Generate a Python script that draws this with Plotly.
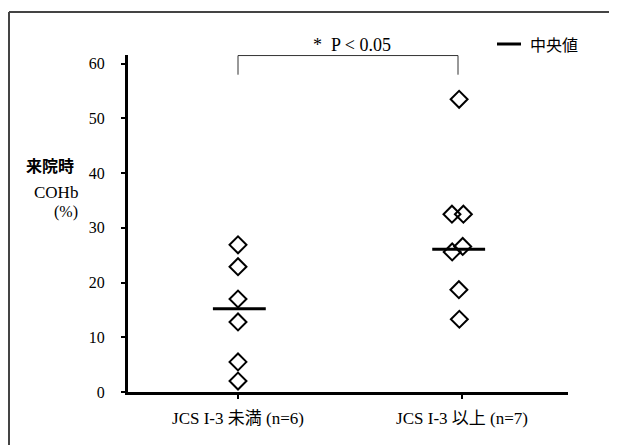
import plotly.graph_objects as go

# ---- data ----
categories = ["JCS I-3 未満 (n=6)", "JCS I-3 以上 (n=7)"]
group1_values = [26.9, 22.9, 17.0, 12.8, 5.5, 2.0]
group2_values = [53.5, 32.5, 32.5, 26.6, 25.6, 18.7, 13.3]
medians = [15.2, 26.1]
y_ticks = [0, 10, 20, 30, 40, 50, 60]
p_label = "*  P < 0.05"
legend_label = "中央値"

# ---- layout constants (reference pixel positions; page body has an 8px margin) ----
OFF = 8
W, H = 617 - OFF, 445 - OFF
AX_L, AX_R, AX_T, AX_B = 128, 568, 55, 392   # plot area in reference pixels
L, R, T, B = AX_L - OFF, W - (AX_R - OFF), AX_T - OFF, H - (AX_B - OFF)
PW, PH = AX_R - AX_L, AX_B - AX_T

# horizontal jitter (display offsets) for overlapping points
g1_jitter = [0, 0, 0, 0, 0, 0]
g2_jitter = [-0.013, -0.045, 0.006, 0.003, -0.044, -0.014, -0.012]
median_half = 0.118
median_shift = [0.006, -0.015]

def xp(px):
    return (px - AX_L) / PW

def yp(py):
    return (AX_B - py) / PH

serif = "Liberation Serif, Noto Sans CJK JP, serif"
cjk = "Noto Sans CJK JP, sans-serif"

fig = go.Figure()

marker = dict(symbol="diamond-open", size=13, color="black", line=dict(width=2, color="black"))
fig.add_trace(go.Scatter(x=[1 + j for j in g1_jitter], y=group1_values, mode="markers",
                         marker=marker, showlegend=False, cliponaxis=False))
fig.add_trace(go.Scatter(x=[2 + j for j in g2_jitter], y=group2_values, mode="markers",
                         marker=marker, showlegend=False, cliponaxis=False))
for i, m in enumerate(medians):
    c = i + 1 + median_shift[i]
    fig.add_trace(go.Scatter(x=[c - median_half, c + median_half], y=[m, m], mode="lines",
                             line=dict(color="black", width=3), showlegend=False,
                             cliponaxis=False))

# significance bracket
fig.add_shape(type="path", xref="x", yref="y",
              path="M 1.0,58.0 L 1.0,61.5 L 1.982,61.5 L 1.982,58.0",
              line=dict(color="#333333", width=1))

# legend sample
fig.add_shape(type="line", xref="paper", yref="paper",
              x0=xp(497), x1=xp(521), y0=yp(44), y1=yp(44),
              line=dict(color="black", width=3))
fig.add_annotation(xref="paper", yref="paper", x=xp(528), y=yp(44), text=legend_label,
                   showarrow=False, xanchor="left", yanchor="middle",
                   font=dict(family=cjk, size=16, color="black"))

# p-value label
fig.add_annotation(xref="paper", yref="paper", x=xp(352), y=yp(45), text=p_label,
                   showarrow=False, xanchor="center", yanchor="middle",
                   font=dict(family=serif, size=18, color="black"))

# y-axis title
fig.add_annotation(xref="paper", yref="paper", x=xp(76), y=yp(165), text="<b>来院時</b>",
                   showarrow=False, xanchor="right", yanchor="middle",
                   font=dict(family=cjk, size=16, color="black"))
fig.add_annotation(xref="paper", yref="paper", x=xp(80), y=yp(192), text="COHb",
                   showarrow=False, xanchor="right", yanchor="middle",
                   font=dict(family=serif, size=17, color="black"))
fig.add_annotation(xref="paper", yref="paper", x=xp(80), y=yp(212), text="(%)",
                   showarrow=False, xanchor="right", yanchor="middle",
                   font=dict(family=serif, size=16, color="black"))

# frame (left and top lines of the figure border)
fig.add_shape(type="line", xref="paper", yref="paper",
              x0=xp(9), x1=xp(9), y0=yp(12), y1=yp(460),
              line=dict(color="#444444", width=2))
fig.add_shape(type="line", xref="paper", yref="paper",
              x0=xp(9), x1=xp(640), y0=yp(12), y1=yp(12),
              line=dict(color="#444444", width=2))

fig.update_layout(
    width=W, height=H,
    margin=dict(l=L, r=R, t=T, b=B, pad=0),
    paper_bgcolor="white", plot_bgcolor="white",
    showlegend=False,
    xaxis=dict(range=[0.509, 2.473], tickvals=[1, 2], ticktext=categories,
               showgrid=False, zeroline=False, showline=True, linecolor="black",
               linewidth=3, ticks="outside", ticklen=4, tickwidth=2, tickcolor="black",
               ticklabelstandoff=5,
               tickfont=dict(family=serif, size=17, color="black")),
    yaxis=dict(range=[0, 61.6], tickvals=y_ticks,
               showgrid=False, zeroline=False, showline=True, linecolor="black",
               linewidth=3, ticks="outside", ticklen=4, tickwidth=2, tickcolor="black",
               ticklabelstandoff=13,
               tickfont=dict(family=serif, size=16, color="black")),
)

fig.write_html("out.html")
